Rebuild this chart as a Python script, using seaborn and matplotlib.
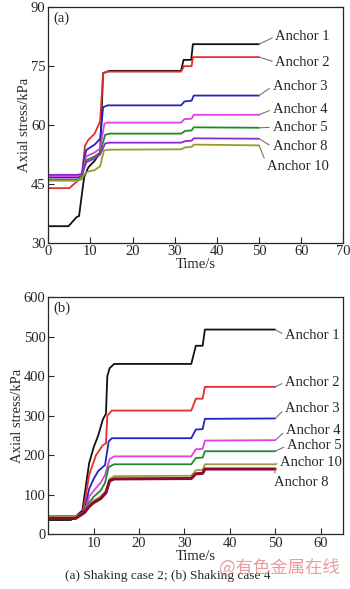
import pandas as pd
import seaborn as sns
import matplotlib.pyplot as plt

# ---- panel (a): shaking case 2, knot points ----
a1_t = [0, 4.8, 6.7, 7.3, 8.5, 9.5, 11, 12.3, 13, 14.5, 31.5, 32.1, 33.9, 34.3, 50]
a1_v = [34.2, 34.2, 36.5, 36.8, 46.7, 49.2, 50.9, 53, 73.2, 73.8, 73.8, 76.6, 76.6, 80.6, 80.6]
a2_t = [0, 5, 7, 7.9, 8.7, 9.5, 11, 12.3, 13, 14, 31.5, 32.2, 34, 34.3, 50]
a2_v = [43.9, 43.9, 45.8, 46.2, 54.7, 56.2, 57.8, 61, 73.2, 73.6, 73.6, 75, 75, 77.3, 77.3]
a3_t = [0, 7, 8, 8.3, 9, 11, 12.3, 13, 14, 31.5, 32.3, 34, 34.5, 50]
a3_v = [46.6, 46.6, 47.5, 50, 53.6, 55, 56.5, 64.5, 65, 65, 66, 66.2, 67.5, 67.5]
a4_t = [0, 7, 8, 9, 11, 12.3, 13.3, 14, 31.5, 32.3, 34, 34.5, 50]
a4_v = [47, 47, 47.5, 52, 53, 54, 60.3, 60.6, 60.6, 61.5, 61.6, 62.6, 62.6]
a5_t = [0, 7, 8, 9, 11, 12.3, 13.5, 14.5, 31.5, 32.5, 34, 34.5, 50]
a5_v = [46, 46, 47, 51, 52, 53, 57.5, 57.8, 57.8, 58.5, 58.6, 59.4, 59.3]
a8_t = [0, 7, 8, 9, 11, 12.3, 13.5, 14.5, 31.5, 32.5, 34, 34.5, 50]
a8_v = [47.3, 47.3, 47.6, 50.5, 51.5, 52.5, 55.3, 55.5, 55.5, 55.9, 56, 56.6, 56.5]
a10_t = [0, 7, 8, 9, 11, 12.3, 13.2, 14.5, 31.5, 32.5, 34, 34.5, 50]
a10_v = [45.8, 45.8, 46.5, 48, 48.5, 49.5, 53.5, 53.7, 53.8, 54.3, 54.4, 55, 54.8]

# ---- panel (b): shaking case 4 ----
b1_t = [0, 5, 6, 7.5, 8, 9, 10, 11, 12, 12.7, 13, 13.5, 14.5, 31.5, 32.5, 34, 34.5, 50]
b1_v = [36, 36, 45, 60, 100, 180, 220, 250, 290, 305, 400, 420, 431, 431, 477, 477, 518, 518]
b2_t = [0, 6, 7.5, 8, 9, 10.5, 12, 12.7, 13, 14, 31.5, 32.5, 34, 34.5, 50]
b2_v = [45, 45, 55, 80, 150, 200, 225, 230, 300, 313, 313, 343, 343, 373, 373]
b3_t = [0, 6, 8, 9, 10, 11, 12.5, 13.3, 14, 31.5, 32.5, 34, 34.5, 50]
b3_v = [45, 45, 60, 115, 140, 160, 175, 235, 243, 243, 265, 266, 292, 293]
b4_t = [0, 6, 8, 9, 10, 11.5, 12.5, 13.5, 14.5, 31.5, 32.5, 34, 34.5, 50]
b4_v = [45, 45, 55, 95, 110, 130, 150, 190, 197, 197, 215, 216, 237, 238]
b5_t = [0, 6, 8, 9, 10, 11.5, 12.5, 13.3, 14.5, 31.5, 32.5, 34, 34.5, 50]
b5_v = [45, 45, 55, 80, 95, 110, 130, 170, 177, 177, 193, 194, 210, 210]
b10_t = [0, 6, 8, 9, 10, 11.5, 12.7, 13.5, 14.5, 31.5, 32.5, 34, 34.5, 50]
b10_v = [45, 45, 55, 75, 85, 95, 110, 140, 147, 148, 162, 163, 177, 177]
b8_t = [0, 6, 8, 9, 10, 11.5, 12.7, 13.5, 14.5, 31.5, 32.5, 34, 34.5, 50]
b8_v = [40, 40, 55, 70, 80, 90, 105, 135, 140, 141, 153, 154, 165, 165]

names_a = ['Anchor 1', 'Anchor 2', 'Anchor 3', 'Anchor 4', 'Anchor 5', 'Anchor 8', 'Anchor 10']
names_b = ['Anchor 1', 'Anchor 2', 'Anchor 3', 'Anchor 4', 'Anchor 5', 'Anchor 10', 'Anchor 8']
series_a = [(a1_t, a1_v), (a2_t, a2_v), (a3_t, a3_v), (a4_t, a4_v),
            (a5_t, a5_v), (a8_t, a8_v), (a10_t, a10_v)]
series_b = [(b1_t, b1_v), (b2_t, b2_v), (b3_t, b3_v), (b4_t, b4_v),
            (b5_t, b5_v), (b10_t, b10_v), (b8_t, b8_v)]

# label text anchors (data coords)
label_a = [(53.9, 82.6), (53.9, 76.0), (53.2, 69.9), (53.2, 64.0),
           (53.2, 59.4), (53.2, 54.4), (52.0, 49.5)]
label_b = [(52.2, 503), (52.2, 385), (52.2, 318), (52.4, 263),
           (52.6, 224), (51.1, 181), (49.8, 130)]

colors = {'Anchor 1': '#111111', 'Anchor 2': '#e0302f', 'Anchor 3': '#2424c0',
          'Anchor 4': '#e040e0', 'Anchor 5': '#1f8a2a'}
pal_a = dict(colors, **{'Anchor 8': '#8a2bd0', 'Anchor 10': '#9a9a2a'})
pal_b = dict(colors, **{'Anchor 8': '#8a0a30', 'Anchor 10': '#a09a40'})


def to_frame(names, series):
    rows = []
    for name, (t, v) in zip(names, series):
        for ti, vi in zip(t, v):
            rows.append({'anchor': name, 'time': ti, 'stress': vi})
    return pd.DataFrame(rows)


def draw_panel(ax, names, series, palette, labels, widths):
    df = to_frame(names, series)
    sns.lineplot(data=df, x='time', y='stress', hue='anchor', palette=palette,
                 estimator=None, sort=False, legend=False, ax=ax, linewidth=1.3)
    for line, name in zip(ax.get_lines(), names):
        line.set_linewidth(widths.get(name, 1.3))
    for name, (t, v), (lx, ly) in zip(names, series, labels):
        ax.annotate(name, xy=(t[-1], v[-1]), xytext=(lx, ly),
                    ha='left', va='center', fontsize=10.5,
                    arrowprops=dict(arrowstyle='-', color='#777777', lw=0.8,
                                    shrinkA=0, shrinkB=0, relpos=(0, 0.5)))
    ax.set_xlabel('Time/s', fontsize=10.5, labelpad=0)
    ax.set_ylabel('Axial stress/kPa', fontsize=10.5, labelpad=0)
    ax.tick_params(direction='in', length=4, labelsize=10.5, pad=2)
    for s in ax.spines.values():
        s.set_linewidth(0.9)


sns.set_style("ticks")
plt.rcParams['font.family'] = ['Liberation Serif', 'Noto Sans CJK SC', 'DejaVu Sans']

fig = plt.figure(figsize=(3.5, 5.89), dpi=100)
ax1 = fig.add_axes([0.138, 0.588, 0.843, 0.3996])
ax2 = fig.add_axes([0.138, 0.093, 0.843, 0.4025])

draw_panel(ax1, names_a, series_a, pal_a, label_a, {})
ax1.set_xlim(0, 70)
ax1.set_ylim(30, 90)
ax1.set_xticks(range(0, 71, 10))
ax1.set_yticks([30, 45, 60, 75, 90])
ax1.text(0.017, 0.983, '(a)', transform=ax1.transAxes, ha='left', va='top', fontsize=10.5)

draw_panel(ax2, names_b, series_b, pal_b, label_b, {'Anchor 8': 2.2})
ax2.set_xlim(0, 65)
ax2.set_ylim(0, 600)
ax2.set_xticks(range(10, 61, 10))
ax2.set_yticks(range(0, 601, 100))
ax2.text(0.017, 0.983, '(b)', transform=ax2.transAxes, ha='left', va='top', fontsize=10.5)

fig.text(0.48, 0.022, '(a) Shaking case 2; (b) Shaking case 4', ha='center', va='center',
         fontsize=9.6)
fig.text(0.797, 0.037, '@有色金属在线', ha='center', va='center', fontsize=12.5,
         color='#e88a8a', alpha=0.85, family=['Noto Sans CJK SC', 'DejaVu Sans'])

fig.savefig('out.png', dpi=100)
